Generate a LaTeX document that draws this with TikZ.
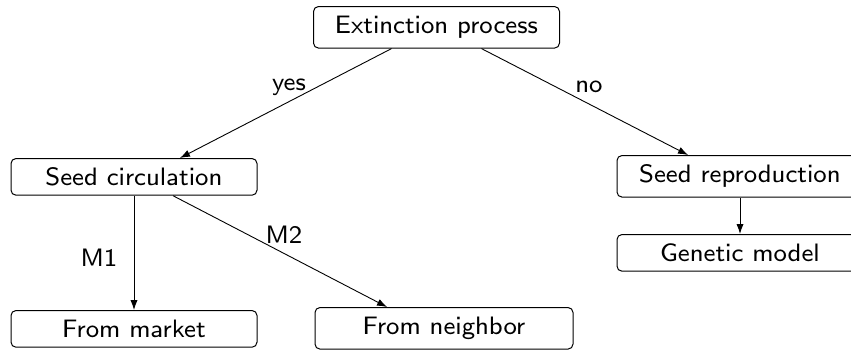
\documentclass[tikz,border=0pt]{standalone}
\usetikzlibrary{arrows.meta}
\font\boxfont=cmss8 at 12.6pt
\begin{document}
\begin{tikzpicture}[x=0.5pt,y=-0.5pt,
  box/.style={draw, rounded corners=2.5pt, line width=0.5pt, minimum width=123pt,
    inner ysep=4.8pt, anchor=north, font=\boxfont},
  lbl/.style={font=\boxfont, inner sep=0pt},
  arr/.style={-{Latex[length=5pt,width=3.6pt]}, line width=0.45pt}]
\useasboundingbox (0,0) rectangle (851,354);

% decision boxes
\node[box] (ext)  at (436.5,6)  {Extinction process};
\node[box] (circ) at (134,158)  {Seed circulation};
\node[box] (rep)  at (740,155)  {Seed reproduction};
\node[box] (gen)  at (740,234)  {Genetic model};
\node[box] (mkt)  at (134,310)  {From market};
\node[box, minimum width=129pt] (nbr) at (444,307) {From neighbor};

% branches
\draw[arr] ([xshift=-22.5pt]ext.south) -- ([xshift=23pt]circ.north);
\draw[arr] ([xshift=22.5pt]ext.south) -- ([xshift=-26pt]rep.north);
\draw[arr] (circ.south) -- (mkt.north);
\draw[arr] ([xshift=19.5pt]circ.south) -- ([xshift=-28.5pt]nbr.north);
\draw[arr] (rep.south) -- (gen.north);

% branch labels
\node[lbl] (yes) at (289,87)  {yes};
\node[lbl] (no)  at (589,87)  {no};
\node[lbl] (m1)  at (99,258)  {M1};
\node[lbl] (m2)  at (284,235) {M2};
\end{tikzpicture}
\end{document}
